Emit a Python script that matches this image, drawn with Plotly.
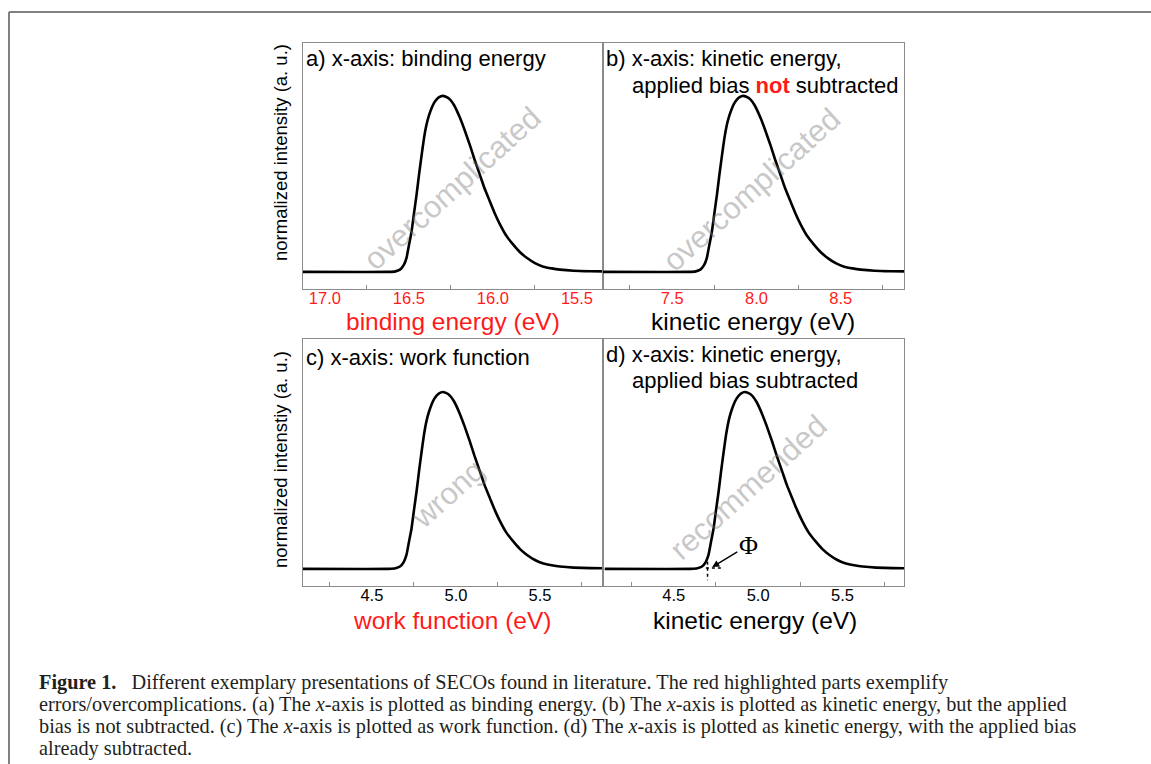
import plotly.graph_objects as go

# ---------------- data ----------------
# secondary electron cut-off, plotted against work function / kinetic energy (eV)
work_function = [4.09, 4.60, 4.64, 4.667, 4.69, 4.706, 4.72, 4.736, 4.75, 4.766, 4.78, 4.796,
                 4.81, 4.825, 4.84, 4.855, 4.87, 4.885, 4.90, 4.921, 4.94, 4.964, 4.99, 5.024,
                 5.05, 5.083, 5.11, 5.143, 5.17, 5.202, 5.23, 5.262, 5.30, 5.341, 5.38, 5.421,
                 5.47, 5.52, 5.57, 5.619, 5.70, 5.80, 5.88]
intensity = [0.0, 0.0, 0.003, 0.013, 0.04, 0.08, 0.15, 0.23, 0.33, 0.44, 0.55, 0.665,
             0.76, 0.837, 0.89, 0.93, 0.96, 0.98, 0.993, 1.0, 0.995, 0.98, 0.945, 0.875,
             0.81, 0.72, 0.64, 0.55, 0.475, 0.40, 0.335, 0.27, 0.205, 0.155, 0.113, 0.08,
             0.05, 0.03, 0.02, 0.013, 0.007, 0.004, 0.003]
photon_energy = 21.22   # He I (eV)
applied_bias = 3.0      # V
phi_value = 4.70        # work function marked in panel d

binding_energy = [photon_energy - v for v in work_function]
kinetic_with_bias = [v + applied_bias for v in work_function]
kinetic_energy = list(work_function)

ticks_a = [17.0, 16.5, 16.0, 15.5]
ticks_b = [7.5, 8.0, 8.5]
ticks_cd = [4.5, 5.0, 5.5]

W, H = 1151, 764
def px(x):
    return x / W
def py(y):
    return 1 - y / H

FONT = "Liberation Sans, Arial, sans-serif"
SERIF = "Liberation Serif, Times New Roman, serif"
RED = "#ff1a1a"
FRAME = "#8a8a8a"

fig = go.Figure()
series = [(binding_energy, "x", "y"), (kinetic_with_bias, "x2", "y2"),
          (work_function, "x3", "y3"), (kinetic_energy, "x4", "y4")]
for xs, xa, ya in series:
    fig.add_trace(go.Scatter(x=xs, y=intensity, mode="lines", xaxis=xa, yaxis=ya,
                             line=dict(color="black", width=2.6, shape="spline", smoothing=0.4),
                             showlegend=False, hoverinfo="skip"))

# Phi construction lines in panel d
fig.add_trace(go.Scatter(x=[phi_value, phi_value], y=[0.04, -0.065], mode="lines",
                         xaxis="x4", yaxis="y4", line=dict(color="black", width=1.5, dash="dot"),
                         showlegend=False, hoverinfo="skip"))
fig.add_trace(go.Scatter(x=[phi_value - 0.01, phi_value + 0.08], y=[0.005, 0.005], mode="lines",
                         xaxis="x4", yaxis="y4", line=dict(color="black", width=1.5, dash="dot"),
                         showlegend=False, hoverinfo="skip"))

col_l = [px(303), px(603)]
col_r = [px(603), px(904)]
row_t = [py(289), py(43)]
row_b = [py(586), py(339)]
yrange = [-0.097, 1.30]

def xaxis_style(domain, rng, tvals, color, anchor):
    return dict(domain=domain, range=rng, anchor=anchor,
                tickmode="array", tickvals=tvals, ticktext=[f"{v:.1f}" for v in tvals],
                tickfont=dict(family=FONT, size=16.5, color=color),
                ticks="", ticklabelstandoff=-6,
                showline=True, mirror=True, linecolor=FRAME, linewidth=1.2,
                showgrid=False, zeroline=False,
                minor=dict(ticks="inside", ticklen=4, tickcolor=FRAME, tick0=0.25, dtick=0.5,
                           showgrid=False))

def yaxis_style(domain, anchor):
    return dict(domain=domain, range=yrange, anchor=anchor, showticklabels=False, ticks="",
                showline=True, mirror=True, linecolor=FRAME, linewidth=1.2,
                showgrid=False, zeroline=False)

fig.update_layout(
    width=W, height=H, autosize=False,
    margin=dict(l=0, r=0, t=0, b=0),
    paper_bgcolor="white", plot_bgcolor="white",
    font=dict(family=FONT, color="black"),
    xaxis=xaxis_style(col_l, [photon_energy - 4.09, photon_energy - 5.875], ticks_a, RED, "y"),
    xaxis2=xaxis_style(col_r, [4.09 + applied_bias, 5.875 + applied_bias], ticks_b, RED, "y2"),
    xaxis3=xaxis_style(col_l, [4.09, 5.875], ticks_cd, "black", "y3"),
    xaxis4=xaxis_style(col_r, [4.08, 5.865], ticks_cd, "black", "y4"),
    yaxis=yaxis_style(row_t, "x"),
    yaxis2=yaxis_style(row_t, "x2"),
    yaxis3=yaxis_style(row_b, "x3"),
    yaxis4=yaxis_style(row_b, "x4"),
)

ann = []
def text(x, y, t, size, color="black", xanchor="left", angle=0, family=FONT, yanchor="middle"):
    ann.append(dict(x=px(x), y=py(y), xref="paper", yref="paper", text=t, showarrow=False,
                    xanchor=xanchor, yanchor=yanchor, textangle=angle,
                    font=dict(family=family, size=size, color=color)))

# panel labels
text(304, 59, "a) x-axis: binding energy", 22)
text(604, 58, "b) x-axis: kinetic energy,", 22)
text(630, 85, "applied bias <b><span style='color:#ff1a1a'>not</span></b> subtracted", 22)
text(304, 357, "c) x-axis: work function", 22)
text(604, 354, "d) x-axis: kinetic energy,", 22)
text(630, 381, "applied bias subtracted", 22)

# x-axis titles
text(453, 321, "binding energy (eV)", 24.5, RED, "center")
text(753, 321, "kinetic energy (eV)", 24.5, "black", "center")
text(452, 620, "work function (eV)", 24.5, RED, "center")
text(755, 620, "kinetic energy (eV)", 24.5, "black", "center")

# y-axis titles
text(280, 153, "normalized intensity (a. u.)", 18.5, "black", "center", -90)
text(280, 460, "normalized intenstiy (a. u.)", 18.5, "black", "center", -90)

# watermarks
WM = "rgba(120,120,120,0.42)"
text(452, 188, "overcomplicated", 31, WM, "center", -42)
text(752, 190, "overcomplicated", 31, WM, "center", -42)
text(447, 494, "wrong", 31, WM, "center", -42)
text(748, 487, "recommended", 31, WM, "center", -42)

# Phi annotation with arrow
ann.append(dict(x=4.728, y=0.01, xref="x4", yref="y4", text="Φ", showarrow=True,
                ax=36, ay=-22, arrowhead=2, arrowsize=1, arrowwidth=1.4, arrowcolor="black",
                standoff=0, font=dict(family=SERIF, size=26, color="black")))

# caption
CAP = "#231f20"
CS = 20.3
text(37, 682.5, "<b>Figure 1.</b>&nbsp;&nbsp; Different exemplary presentations of SECOs found in literature. "
     "The red highlighted parts exemplify", CS, CAP, family=SERIF)
text(37, 704.5, "errors/overcomplications. (a) The <i>x</i>-axis is plotted as binding energy. "
     "(b) The <i>x</i>-axis is plotted as kinetic energy, but the applied", CS, CAP, family=SERIF)
text(37, 726.5, "bias is not subtracted. (c) The <i>x</i>-axis is plotted as work function. "
     "(d) The <i>x</i>-axis is plotted as kinetic energy, with the applied bias", CS, CAP, family=SERIF)
text(37, 748.5, "already subtracted.", CS, CAP, family=SERIF)

fig.update_layout(annotations=ann)

# outer frame of the figure box
fig.add_shape(type="line", xref="paper", yref="paper", x0=px(9), x1=1.0, y0=py(12), y1=py(12),
              line=dict(color="#808080", width=2))
fig.add_shape(type="line", xref="paper", yref="paper", x0=px(9), x1=px(9), y0=py(12), y1=0,
              line=dict(color="#808080", width=2))

fig.write_html("out.html", config={"displayModeBar": False},
               post_script="document.body.style.margin='0px';document.body.style.overflow='hidden';")
